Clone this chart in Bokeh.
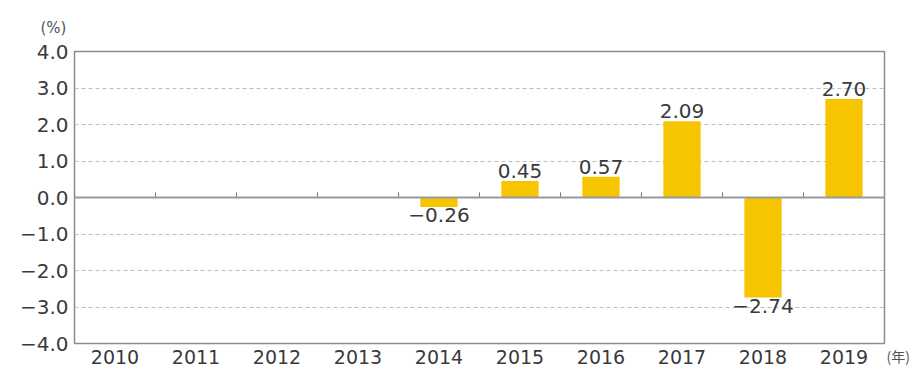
from bokeh.plotting import figure
from bokeh.models import Range1d, FixedTicker, ColumnDataSource, Span, LinearAxis
from bokeh.core.properties import value
from bokeh.embed import file_html
from bokeh.resources import INLINE

years = ["2010", "2011", "2012", "2013", "2014", "2015", "2016", "2017", "2018", "2019"]
values = [None, None, None, None, -0.26, 0.45, 0.57, 2.09, -2.74, 2.70]
y_ticks = [-4.0, -3.0, -2.0, -1.0, 0.0, 1.0, 2.0, 3.0, 4.0]
y_unit = "(%)"
x_unit = "(年)"

BAR = "#F7C400"
TXT = "#3a3a3a"
FONT = "DejaVu Sans"

def fmt(v):
    return f"{v:.2f}".replace("-", "−")

p = figure(width=918, height=372, output_backend="svg", toolbar_location=None,
           x_range=Range1d(0, len(years)), y_range=Range1d(y_ticks[0], y_ticks[-1]),
           min_border_left=74, min_border_right=34, min_border_top=51, min_border_bottom=29,
           title=y_unit)
p.background_fill_color = "white"
p.border_fill_color = "white"
p.outline_line_color = "#8c8c8c"
p.outline_line_width = 1.5

p.title.align = "left"
p.title.offset = -34
p.title.standoff = 29
p.title.text_font = "DejaVu Sans"
p.title.text_font_size = "15px"
p.title.text_font_style = "normal"
p.title.text_color = "#555555"

# x axis
p.xaxis.ticker = FixedTicker(ticks=[i + 0.5 for i in range(len(years))])
p.xaxis.major_label_overrides = {i + 0.5: y for i, y in enumerate(years)}
p.xaxis.major_tick_in = 0
p.xaxis.major_tick_out = 0
p.xaxis.minor_tick_line_color = None
p.xaxis.axis_line_color = None
p.xaxis.major_label_text_font = FONT
p.xaxis.major_label_text_font_size = "19px"
p.xaxis.major_label_text_color = TXT
p.xaxis.major_label_standoff = 6

# y axis
p.yaxis.ticker = FixedTicker(ticks=y_ticks)
p.yaxis.major_label_overrides = {t: f"{t:.1f}".replace("-", "−") for t in y_ticks}
p.yaxis.major_tick_in = 0
p.yaxis.major_tick_out = 0
p.yaxis.minor_tick_line_color = None
p.yaxis.axis_line_color = None
p.yaxis.major_label_text_font = FONT
p.yaxis.major_label_text_font_size = "20px"
p.yaxis.major_label_text_color = TXT
p.yaxis.major_label_standoff = 6

# unit axis on the right, labelling the bottom edge with the x unit
p.extra_y_ranges = {"unit": Range1d(y_ticks[0], y_ticks[-1])}
ua = LinearAxis(y_range_name="unit", ticker=FixedTicker(ticks=[y_ticks[0]]))
ua.major_label_overrides = {y_ticks[0]: "\n" + x_unit}
ua.major_tick_in = 0
ua.major_tick_out = 0
ua.minor_tick_line_color = None
ua.axis_line_color = None
ua.major_label_standoff = 2
ua.major_label_text_font = "Noto Sans CJK JP"
ua.major_label_text_font_size = "14px"
ua.major_label_text_color = "#555555"
p.add_layout(ua, "right")

# grids
p.xgrid.grid_line_color = None
p.ygrid.ticker = FixedTicker(ticks=[t for t in y_ticks if t not in (0.0, y_ticks[0], y_ticks[-1])])
p.ygrid.grid_line_color = "#bdbdbd"
p.ygrid.grid_line_dash = "4 3"
p.ygrid.grid_line_width = 1

# bars
xs = [i + 0.5 for i, v in enumerate(values) if v is not None]
vs = [v for v in values if v is not None]
src = ColumnDataSource(dict(x=xs, top=vs))
p.vbar(x="x", top="top", bottom=0, width=0.46, source=src, fill_color=BAR, line_color=None)

# zero line
p.add_layout(Span(location=0, dimension="width", line_color="#9a9a9a", line_width=2))

# small ticks at category boundaries on the zero line
bx = list(range(1, len(years)))
p.segment(x0=bx, x1=bx, y0=[0] * len(bx), y1=[0.14] * len(bx), line_color="#777777", line_width=1)

# value labels
pos = ColumnDataSource(dict(x=[x for x, v in zip(xs, vs) if v >= 0],
                            y=[v for v in vs if v >= 0],
                            t=[fmt(v) for v in vs if v >= 0]))
neg = ColumnDataSource(dict(x=[x for x, v in zip(xs, vs) if v < 0],
                            y=[v for v in vs if v < 0],
                            t=[fmt(v) for v in vs if v < 0]))
p.text(x="x", y="y", text="t", source=pos, text_align="center", text_baseline="bottom",
       y_offset=-3, text_font=value(FONT), text_font_size="20px", text_color=TXT)
p.text(x="x", y="y", text="t", source=neg, text_align="center", text_baseline="top",
       y_offset=1, text_font=value(FONT), text_font_size="20px", text_color=TXT)

open("out.html", "w").write(file_html(p, INLINE))
